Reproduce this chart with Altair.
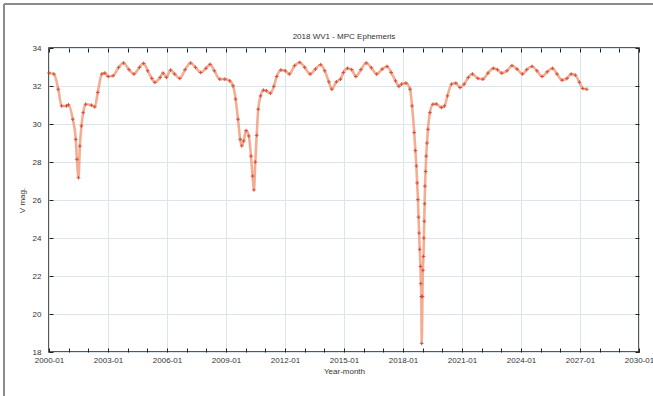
import altair as alt
import pandas as pd

# Ephemeris samples: decimal year and predicted V magnitude
years = [
    2000.00, 2000.25, 2000.47, 2000.64, 2000.89, 2000.99, 2001.21, 2001.36, 2001.42, 2001.50,
    2001.57, 2001.65, 2001.74, 2001.86, 2002.16, 2002.33, 2002.48, 2002.69, 2002.84, 2003.01,
    2003.26, 2003.54, 2003.79, 2004.07, 2004.32, 2004.60, 2004.81, 2005.02, 2005.23, 2005.38,
    2005.65, 2005.80, 2005.97, 2006.18, 2006.39, 2006.65, 2006.92, 2007.20, 2007.45, 2007.71,
    2007.98, 2008.19, 2008.41, 2008.68, 2008.94, 2009.19, 2009.36, 2009.49, 2009.61, 2009.72,
    2009.80, 2009.90, 2010.02, 2010.16, 2010.27, 2010.35, 2010.42, 2010.49, 2010.56, 2010.64,
    2010.76, 2010.90, 2011.05, 2011.26, 2011.43, 2011.58, 2011.79, 2012.01, 2012.22, 2012.49,
    2012.75, 2013.00, 2013.28, 2013.55, 2013.81, 2014.02, 2014.23, 2014.38, 2014.61, 2014.82,
    2014.97, 2015.18, 2015.39, 2015.60, 2015.86, 2016.13, 2016.39, 2016.66, 2016.94, 2017.19,
    2017.40, 2017.62, 2017.79, 2017.93, 2018.15, 2018.36, 2018.46, 2018.57, 2018.63, 2018.68,
    2018.72, 2018.76, 2018.79, 2018.82, 2018.85, 2018.89, 2018.91, 2018.93, 2018.95, 2018.99,
    2019.01, 2019.04, 2019.06, 2019.08, 2019.10, 2019.12, 2019.15, 2019.18, 2019.22, 2019.27,
    2019.37, 2019.52, 2019.69, 2019.95, 2020.11, 2020.26, 2020.47, 2020.69, 2020.90, 2021.11,
    2021.32, 2021.53, 2021.81, 2022.06, 2022.32, 2022.59, 2022.80, 2023.02, 2023.29, 2023.54,
    2023.80, 2024.07, 2024.29, 2024.56, 2024.81, 2025.07, 2025.34, 2025.60, 2025.83, 2026.09,
    2026.34, 2026.55, 2026.76, 2026.97, 2027.14, 2027.35,
]
vmag = [
    32.68, 32.63, 31.83, 30.95, 30.95, 31.01, 30.25, 29.19, 28.14, 27.17,
    28.84, 29.90, 30.60, 31.04, 30.99, 30.90, 31.66, 32.63, 32.68, 32.50,
    32.54, 32.98, 33.21, 32.86, 32.63, 32.98, 33.19, 32.80, 32.40, 32.19,
    32.45, 32.68, 32.45, 32.84, 32.63, 32.40, 32.86, 33.21, 32.98, 32.71,
    32.93, 33.14, 32.80, 32.36, 32.36, 32.27, 32.01, 31.31, 30.25, 29.19,
    28.85, 29.11, 29.65, 29.37, 28.31, 27.26, 26.53, 28.00, 29.40, 30.78,
    31.48, 31.78, 31.75, 31.62, 31.98, 32.50, 32.84, 32.80, 32.63, 33.07,
    33.24, 32.98, 32.63, 32.89, 33.12, 32.80, 32.22, 31.83, 32.22, 32.36,
    32.71, 32.93, 32.86, 32.50, 32.86, 33.21, 32.96, 32.63, 32.89, 33.03,
    32.71, 32.27, 31.98, 32.10, 32.15, 31.83, 30.95, 29.55, 28.60, 27.79,
    26.90, 26.02, 25.10, 24.26, 23.40, 22.50, 21.60, 20.92, 18.45, 20.92,
    22.30, 23.03, 24.00, 24.88, 25.80, 26.73, 27.50, 28.31, 29.00, 29.72,
    30.60, 31.04, 31.05, 30.87, 30.95, 31.48, 32.10, 32.15, 31.92, 32.10,
    32.45, 32.63, 32.40, 32.36, 32.68, 32.93, 32.86, 32.68, 32.80, 33.07,
    32.89, 32.63, 32.86, 33.03, 32.80, 32.50, 32.75, 32.93, 32.63, 32.31,
    32.40, 32.63, 32.57, 32.20, 31.87, 31.83,
]

# Axis ticks
x_major = [2000, 2003, 2006, 2009, 2012, 2015, 2018, 2021, 2024, 2027, 2030]
x_minor = list(range(2000, 2031))
y_major = [18, 20, 22, 24, 26, 28, 30, 32, 34]

chart_title = "2018 WV1 - MPC Ephemeris"

df = pd.DataFrame({"year": years, "vmag": vmag})

FONT = "Liberation Sans"
TXT = "#333333"
GRID = "#dde5ec"

x_scale = alt.Scale(domain=[2000, 2030], nice=False, zero=False)
y_scale = alt.Scale(domain=[18, 34], nice=False, zero=False)

base = alt.Chart(df)

# Main axes with labels and grid
curve = base.mark_line(
    color="#f0916e", strokeWidth=2.6, opacity=0.75, interpolate="monotone"
).encode(
    x=alt.X(
        "year:Q",
        scale=x_scale,
        axis=alt.Axis(
            values=x_major, labelExpr="datum.value + '-01'", title="Year-month",
            grid=True, gridColor=GRID, gridWidth=1, ticks=False, domain=False,
            labelFont=FONT, labelFontSize=8, labelColor=TXT, labelPadding=4,
            labelFlush=False, labelOverlap=False,
            titleFont=FONT, titleFontSize=8, titleFontWeight="normal",
            titleColor=TXT, titlePadding=3,
        ),
    ),
    y=alt.Y(
        "vmag:Q",
        scale=y_scale,
        axis=alt.Axis(
            values=y_major, title="V mag.",
            grid=True, gridColor=GRID, gridWidth=1, ticks=False, domain=False,
            labelFont=FONT, labelFontSize=8, labelColor=TXT, labelPadding=8,
            titleFont=FONT, titleFontSize=8, titleFontWeight="normal",
            titleColor=TXT, titlePadding=6,
        ),
    ),
)

# Plus-shaped point markers
crosses = base.mark_point(
    shape="M-1,0L1,0M0,-1L0,1", filled=False, size=14,
    strokeWidth=0.9, color="#cf3f2a", opacity=0.9,
).encode(
    x=alt.X("year:Q", scale=x_scale, axis=None),
    y=alt.Y("vmag:Q", scale=y_scale, axis=None),
)

# Inward ticks on all four sides
def tick_axis(orient, values):
    return alt.Axis(
        orient=orient, offset=-4, tickSize=4, values=values, labels=False,
        grid=False, domain=False, tickColor="#222222", tickWidth=1,
    )

ticks_bl = base.mark_point(opacity=0).encode(
    x=alt.X("year:Q", scale=x_scale, title=None, axis=tick_axis("bottom", x_minor)),
    y=alt.Y("vmag:Q", scale=y_scale, title=None, axis=tick_axis("left", y_major)),
)
ticks_tr = base.mark_point(opacity=0).encode(
    x=alt.X("year:Q", scale=x_scale, title=None, axis=tick_axis("top", x_minor)),
    y=alt.Y("vmag:Q", scale=y_scale, title=None, axis=tick_axis("right", y_major)),
)

single = alt.Chart(alt.Data(values=[{"t": chart_title}]))

# Chart heading above the plot area
heading = single.mark_text(
    font=FONT, fontSize=8, color=TXT, align="center", baseline="middle"
).encode(
    text="t:N", x=alt.value(295), y=alt.value(-11)
)

# Outer page frame (top and left edges)
frame_top = single.mark_rule(color="#8c8c8c", strokeWidth=2).encode(
    x=alt.value(-45), x2=alt.value(604), y=alt.value(-44)
)
frame_left = single.mark_rule(color="#8c8c8c", strokeWidth=2).encode(
    x=alt.value(-45), y=alt.value(-44), y2=alt.value(348)
)

chart = (
    alt.layer(curve, crosses, ticks_bl, ticks_tr, heading, frame_top, frame_left)
    .resolve_axis(x="independent", y="independent")
    .properties(
        width=590,
        height=304,
        padding={"left": 49, "top": 48, "right": 14, "bottom": 44},
        autosize=alt.AutoSizeParams(type="none"),
        background="white",
    )
    .configure_view(stroke="#222222", strokeWidth=1.5)
)

chart.save("out.html", embed_options={"renderer": "svg", "actions": False})
